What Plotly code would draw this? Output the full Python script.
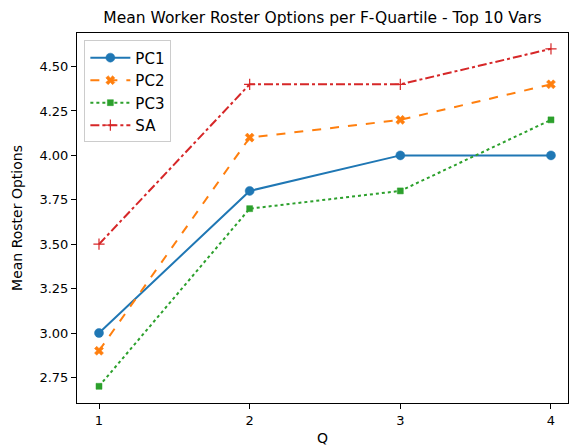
import plotly.graph_objects as go

quartiles = [1, 2, 3, 4]
series_names = ["PC1", "PC2", "PC3", "SA"]
pc1 = [3.0, 3.8, 4.0, 4.0]
pc2 = [2.9, 4.1, 4.2, 4.4]
pc3 = [2.7, 3.7, 3.8, 4.2]
sa = [3.5, 4.4, 4.4, 4.6]
y_ticks = [2.75, 3.00, 3.25, 3.50, 3.75, 4.00, 4.25, 4.50]

colors = ["#1f77b4", "#ff7f0e", "#2ca02c", "#d62728"]
dashes = ["solid", "dash", "dot", "dashdot"]
symbols = ["circle", "x", "square", "cross-thin-open"]
sizes = [9, 8, 6, 8]

fig = go.Figure()
for name, vals, c, d, s, sz in zip(series_names, [pc1, pc2, pc3, sa], colors, dashes, symbols, sizes):
    fig.add_trace(go.Scatter(
        x=quartiles, y=vals, name=name, mode="lines+markers",
        line=dict(color=c, dash=d, width=2),
        marker=dict(symbol=s, size=sz, color=c, line=dict(color=c, width=1.2 if s == "cross-thin-open" else 0.5)),
    ))

fig.update_layout(
    width=569, height=446,
    margin=dict(l=77, r=1, t=33, b=43),
    paper_bgcolor="white", plot_bgcolor="white",
    font=dict(family="DejaVu Sans", size=12, color="black"),
    title=dict(text="Mean Worker Roster Options per F-Quartile - Top 10 Vars",
               x=0.5, xref="paper", y=1 - 18 / 446, yref="container", yanchor="middle",
               font=dict(size=15.5)),
    legend=dict(x=0.015, y=0.98, xanchor="left", yanchor="top",
                bgcolor="rgba(255,255,255,0.8)", bordercolor="#cccccc", borderwidth=1,
                font=dict(size=15), tracegroupgap=2, itemwidth=40),
    xaxis=dict(range=[0.854, 4.113], tickvals=quartiles, ticktext=[str(q) for q in quartiles],
               showgrid=False, zeroline=False, showline=True, linecolor="black", linewidth=1,
               mirror=True, ticks="outside", ticklen=5, tickcolor="black", automargin=False,
               title=dict(text="Q", font=dict(size=14), standoff=8), tickfont=dict(size=13)),
    yaxis=dict(range=[2.606, 4.689], tickvals=y_ticks, ticktext=[f"{v:.2f}" for v in y_ticks],
               showgrid=False, zeroline=False, showline=True, linecolor="black", linewidth=1,
               mirror=True, ticks="outside", ticklen=5, tickcolor="black", automargin=False,
               title=dict(text="Mean Roster Options", font=dict(size=14), standoff=13), tickfont=dict(size=13)),
)

fig.write_html("out.html", config={"displayModeBar": False},
               post_script="document.body.style.margin='0px';")
